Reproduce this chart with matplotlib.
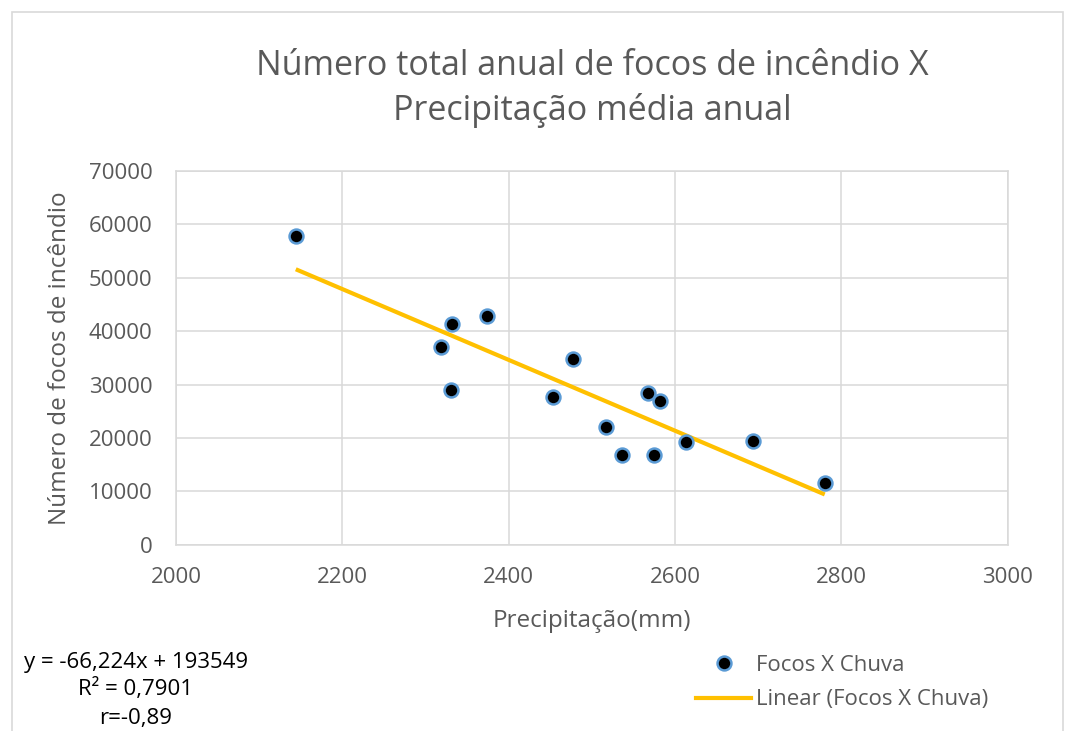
import matplotlib
matplotlib.use("Agg")
import matplotlib.pyplot as plt
import numpy as np
from matplotlib.lines import Line2D

# Data
precipitacao = [2144, 2318, 2332, 2331, 2374, 2453, 2477, 2517, 2536, 2568, 2582, 2575, 2613, 2694, 2780]
focos = [57800, 37100, 41300, 29000, 42800, 27700, 34700, 22100, 16800, 28500, 27000, 16800, 19300, 19400, 11500]

# Trendline as reported by the chart
slope = -66.224
intercept = 193549

x_ticks = [2000, 2200, 2400, 2600, 2800, 3000]
y_ticks = [0, 10000, 20000, 30000, 40000, 50000, 60000, 70000]

text_color = "#595959"
grid_color = "#D9D9D9"
font = "Open Sans"
plt.rcParams["font.family"] = [font, "DejaVu Sans"]

fig = plt.figure(figsize=(10.65, 7.31), dpi=100)
fig.set_facecolor("white")
ax = fig.add_axes([0.1653, 0.2545, 0.7809, 0.512])

# Trend line over the data range
x_line = np.array([min(precipitacao), max(precipitacao)])
ax.plot(x_line, slope * x_line + intercept, color="#FFC000", lw=3, zorder=2,
        solid_capstyle="butt")

# Scatter points
ax.plot(precipitacao, focos, linestyle="none", marker="o", markersize=10,
        markerfacecolor="black", markeredgecolor="#5B9BD5", markeredgewidth=1.8, zorder=3)

ax.set_xlim(2000, 3000)
ax.set_ylim(0, 70000)
ax.set_xticks(x_ticks)
ax.set_yticks(y_ticks)
ax.tick_params(length=0, labelsize=16, labelcolor=text_color)
ax.tick_params(axis="y", pad=17)
ax.tick_params(axis="x", pad=16)
ax.grid(True, color=grid_color, lw=1.1, zorder=0)
ax.set_axisbelow(True)
for s in ax.spines.values():
    s.set_color(grid_color)
    s.set_linewidth(1.1)

ax.set_xlabel("Precipitação(mm)", fontsize=17.5, color=text_color, labelpad=15)
ax.set_ylabel("Número de focos de incêndio", fontsize=17.5, color=text_color, labelpad=12)

fig.text(0.556, 0.879, "Número total anual de focos de incêndio X\nPrecipitação média anual",
         ha="center", va="center", fontsize=24.5, color=text_color, linespacing=1.35)

# Equation and stats
fig.text(0.128, 0.094, "y = -66,224x + 193549", ha="center", va="center", fontsize=16, color="black")
fig.text(0.127, 0.058, "R² = 0,7901", ha="center", va="center", fontsize=16, color="black")
fig.text(0.127, 0.017, "r=-0,89", ha="center", va="center", fontsize=16, color="black")

# Legend
handles = [
    Line2D([], [], linestyle="none", marker="o", markersize=10, markerfacecolor="black",
           markeredgecolor="#5B9BD5", markeredgewidth=1.8),
    Line2D([], [], color="#FFC000", lw=3),
]
leg = fig.legend(handles, ["Focos X Chuva", "Linear (Focos X Chuva)"], loc="center left",
                 bbox_to_anchor=(0.643, 0.066), frameon=False, fontsize=16,
                 handlelength=2.5, handletextpad=0.2, labelspacing=0.6, borderpad=0)
for t in leg.get_texts():
    t.set_color(text_color)

# Outer chart border
fig.add_artist(plt.Rectangle((0.011, -0.01), 0.987, 0.994, transform=fig.transFigure,
                             fill=False, edgecolor=grid_color, lw=1.2))

fig.savefig("out.png", dpi=100)
